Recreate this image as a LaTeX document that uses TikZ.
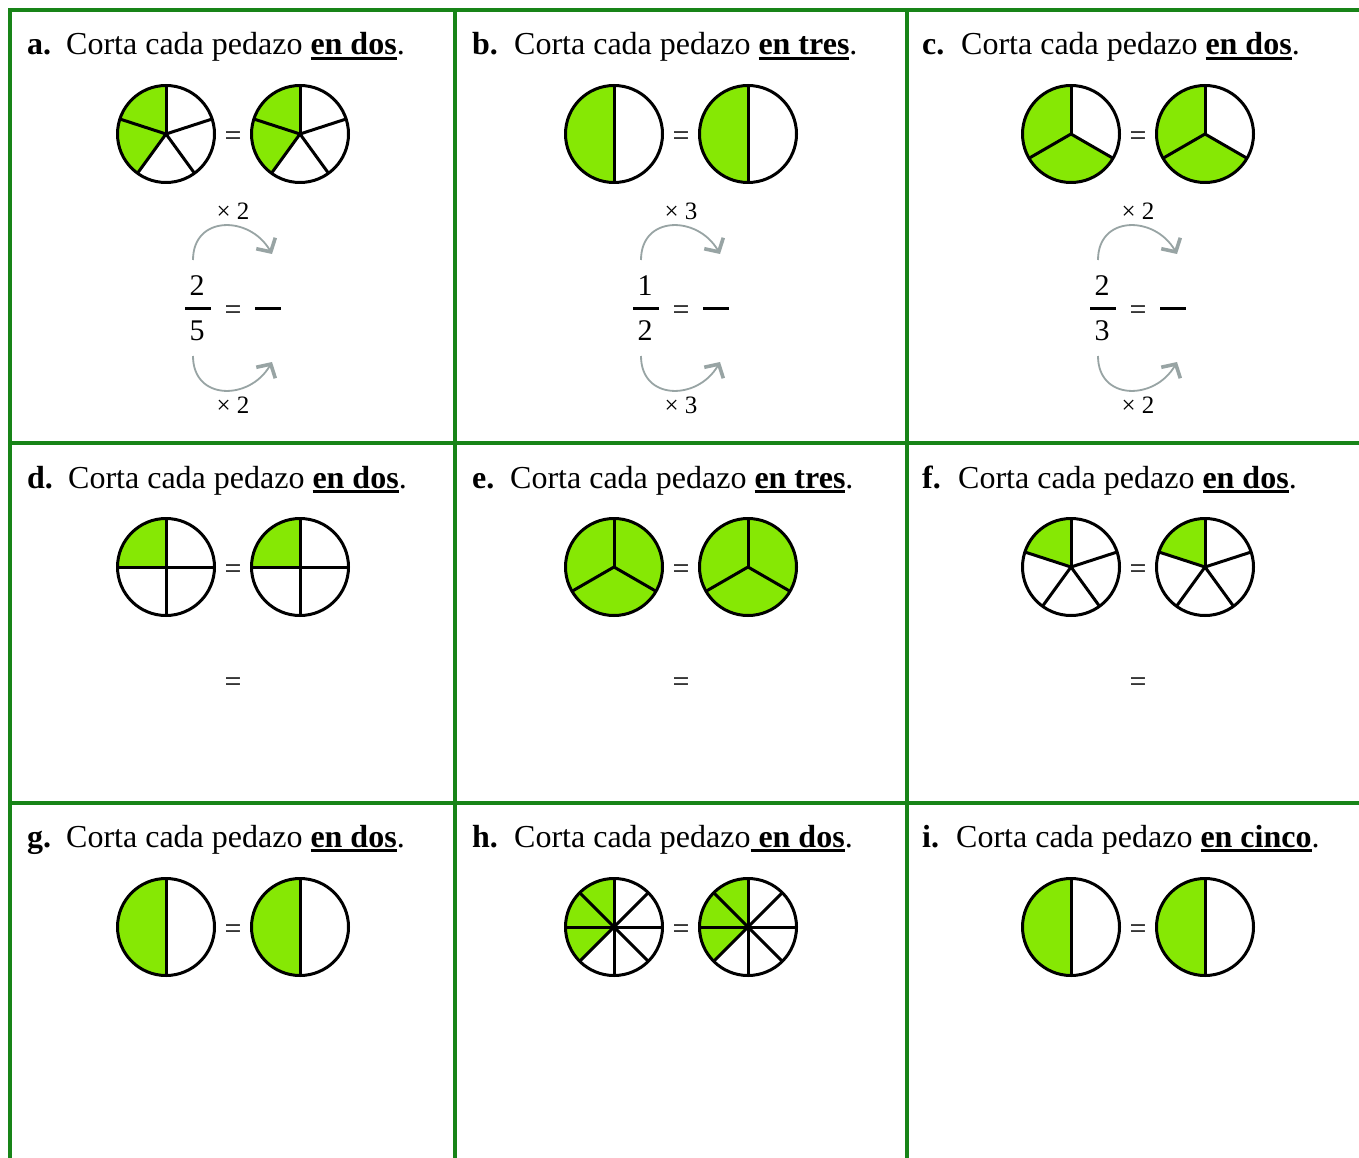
\documentclass[tikz,border=0pt]{standalone}
\usepackage{fontspec}
\setmainfont{Liberation Serif}
\usetikzlibrary{arrows.meta}
\definecolor{pgreen}{RGB}{134,232,4}
\definecolor{gridgreen}{RGB}{24,132,24}
\definecolor{arcgray}{RGB}{152,164,164}
\newcommand\myul[1]{\setbox0=\hbox{#1}\rlap{\rule[-5pt]{\wd0}{2.6pt}}\box0}
% name, position, slices, green slices
\newcommand\piechart[4]{%
  \coordinate (#1) at (#2);
  \foreach \i in {1,...,#4}{%
    \pgfmathsetmacro\a{90+360/#3*(\i-1)}%
    \fill[pgreen] (#1) -- ++(\a:48.5) arc[start angle=\a, delta angle=360/#3, radius=48.5] -- cycle;}
  \foreach \i in {1,...,#3}{%
    \pgfmathsetmacro\a{90+360/#3*(\i-1)}%
    \draw[pieline] (#1) -- ++(\a:48.5);}
  \draw[pieline] (#1) circle[radius=48.5];
}
% name, xshift, numerator, denominator, multiplier
\newcommand\fracblock[5]{%
  \begin{scope}[xshift=#2]
    \node[mult] (#1mt) at (233,-211) {× #5};
    \coordinate (#1ts) at (193,-260);
    \coordinate (#1te) at (272,-254);
    \draw[arcline] (#1ts) to[out=90,in=120,looseness=1.45] (#1te);
    \node[fracd] (#1n) at (197,-286) {#3};
    \node[fbar] (#1b) at (198,-308) {};
    \node[fracd] (#1d) at (197,-331) {#4};
    \node[eqs] (#1eq) at (233,-308) {=};
    \node[fbar] (#1blank) at (268,-308) {};
    \coordinate (#1bs) at (193,-356);
    \coordinate (#1be) at (272,-362);
    \draw[arcline] (#1bs) to[out=-90,in=-120,looseness=1.45] (#1be);
    \node[mult] (#1mb) at (233,-405) {× #5};
  \end{scope}%
}
\begin{document}
\begin{tikzpicture}[x=1pt,y=1pt,
  title/.style={anchor=base west,inner sep=0,font=\fontsize{32}{38}\selectfont},
  letter/.style={anchor=base west,inner sep=0,font=\fontsize{32}{38}\selectfont\bfseries},
  pieline/.style={draw=black,line width=3pt,line join=round},
  gridline/.style={draw=gridgreen,line width=3.8pt},
  eqs/.style={inner sep=0,yshift=-5pt,font=\fontsize{30}{34}\selectfont},
  mult/.style={inner sep=0,font=\fontsize{25}{30}\selectfont},
  fracd/.style={inner sep=0,font=\fontsize{30}{34}\selectfont},
  fbar/.style={fill=black,inner sep=0,minimum width=26pt,minimum height=3pt},
  arcline/.style={draw=arcgray,line width=1.8pt,
    -{Straight Barb[length=10pt,width=22pt,line width=3.6pt]}}
]
\useasboundingbox (0,0) rectangle (1359,-1158);
\fill[white] (0,0) rectangle (1359,-1158);

% grid
\draw[gridline] (8.1,-10) -- (1359,-10);
\draw[gridline] (10,-8.1) -- (10,-1158);
\draw[gridline] (455,-10) -- (455,-1158);
\draw[gridline] (907,-10) -- (907,-1158);
\draw[gridline] (10,-443) -- (1359,-443);
\draw[gridline] (10,-803) -- (1359,-803);

% titles row 1
\node[letter] (la) at (27,-55) {a.};
\node[title] (ta) at (66,-55) {Corta cada pedazo \myul{\textbf{en dos}}.};
\node[letter] (lb) at (472,-55) {b.};
\node[title] (tb) at (514,-55) {Corta cada pedazo \myul{\textbf{en tres}}.};
\node[letter] (lc) at (922,-55) {c.};
\node[title] (tc) at (961,-55) {Corta cada pedazo \myul{\textbf{en dos}}.};
% titles row 2
\node[letter] (ld) at (27,-488) {d.};
\node[title] (td) at (68,-488) {Corta cada pedazo \myul{\textbf{en dos}}.};
\node[letter] (le) at (472,-488) {e.};
\node[title] (te) at (510,-488) {Corta cada pedazo \myul{\textbf{en tres}}.};
\node[letter] (lf) at (922,-488) {f.};
\node[title] (tf) at (958,-488) {Corta cada pedazo \myul{\textbf{en dos}}.};
% titles row 3
\node[letter] (lg) at (27,-847) {g.};
\node[title] (tg) at (66,-847) {Corta cada pedazo \myul{\textbf{en dos}}.};
\node[letter] (lh) at (472,-847) {h.};
\node[title] (th) at (514,-847) {Corta cada pedazo\myul{\ \textbf{en dos}}.};
\node[letter] (li) at (922,-847) {i.};
\node[title] (ti) at (956,-847) {Corta cada pedazo \myul{\textbf{en cinco}}.};

% pies row 1
\piechart{pa1}{166,-134}{5}{2}
\piechart{pa2}{300,-134}{5}{2}
\node[eqs] (eqa) at (233,-134) {=};
\piechart{pb1}{614,-134}{2}{1}
\piechart{pb2}{748,-134}{2}{1}
\node[eqs] (eqb) at (681,-134) {=};
\piechart{pc1}{1071,-134}{3}{2}
\piechart{pc2}{1205,-134}{3}{2}
\node[eqs] (eqc) at (1138,-134) {=};

% fraction blocks row 1
\fracblock{fa}{0pt}{2}{5}{2}
\fracblock{fb}{448pt}{1}{2}{3}
\fracblock{fc}{905pt}{2}{3}{2}

% pies row 2
\piechart{pd1}{166,-567}{4}{1}
\piechart{pd2}{300,-567}{4}{1}
\node[eqs] (eqd) at (233,-567) {=};
\piechart{pe1}{614,-567}{3}{3}
\piechart{pe2}{748,-567}{3}{3}
\node[eqs] (eqe) at (681,-567) {=};
\piechart{pf1}{1071,-567}{5}{1}
\piechart{pf2}{1205,-567}{5}{1}
\node[eqs] (eqf) at (1138,-567) {=};
\node[eqs] (eqd2) at (233,-680) {=};
\node[eqs] (eqe2) at (681,-680) {=};
\node[eqs] (eqf2) at (1138,-680) {=};

% pies row 3
\piechart{pg1}{166,-927}{2}{1}
\piechart{pg2}{300,-927}{2}{1}
\node[eqs] (eqg) at (233,-927) {=};
\piechart{ph1}{614,-927}{8}{3}
\piechart{ph2}{748,-927}{8}{3}
\node[eqs] (eqh) at (681,-927) {=};
\piechart{pi1}{1071,-927}{2}{1}
\piechart{pi2}{1205,-927}{2}{1}
\node[eqs] (eqi) at (1138,-927) {=};
\end{tikzpicture}
\end{document}
